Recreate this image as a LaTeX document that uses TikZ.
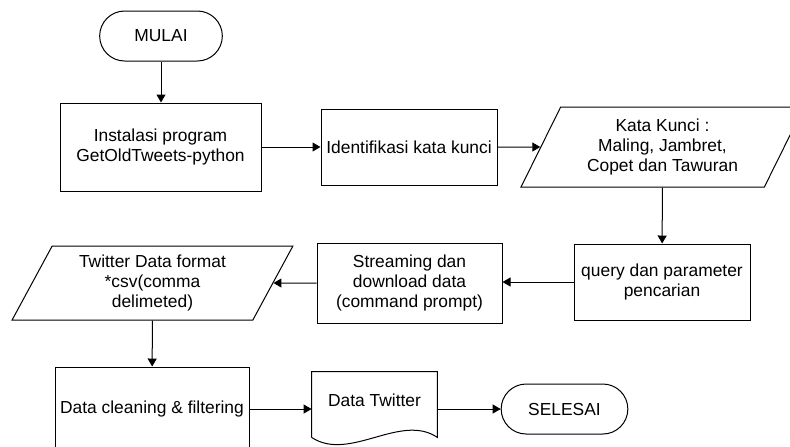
\documentclass[tikz,border=0pt]{standalone}
\usepackage{fontspec}
\setmainfont{Liberation Sans}
\usetikzlibrary{positioning, arrows.meta, shapes.geometric, shapes.misc}

\begin{document}
\begin{tikzpicture}[x=0.5pt, y=-0.5pt, font=\fontsize{8.7}{10}\selectfont,
  proc/.style={draw, line width=0.5pt, align=center, inner sep=2pt},
  term/.style={draw, line width=0.5pt, rounded rectangle, minimum width=68pt, minimum height=25pt},
  dataio/.style={draw, line width=0.5pt, trapezium, trapezium left angle=63.4, trapezium right angle=116.6, trapezium stretches=true, align=center, inner sep=1pt},
  flow/.style={line width=0.5pt, -{Triangle[length=4pt, width=4.5pt]}}]
\path[use as bounding box, clip] (0,0) rectangle (790,446);
\node[term] (mulai) at (161,36) {MULAI};
\node[proc, minimum width=100.5pt, minimum height=44pt] (instal) at (160.5,147) {Instalasi program\\GetOldTweets-python};
\node[proc, minimum width=88pt, minimum height=38pt] (ident) at (409,147) {Identifikasi kata kunci};
\node[dataio, minimum width=141.5pt, minimum height=40pt] (kunci) at (662.5,147) {Kata Kunci :\\Maling, Jambret,\\Copet dan Tawuran};
\node[proc, minimum width=88pt, minimum height=38pt] (query) at (662,282) {query dan parameter\\pencarian};
\node[proc, minimum width=92.5pt, minimum height=40pt] (stream) at (409.5,283) {Streaming dan\\download data\\(command prompt)};
\node[dataio, minimum width=140.5pt, minimum height=37pt] (twdata) at (152.5,283) {Twitter Data format\\*csv(comma\\delimeted)};
\node[proc, minimum width=97pt, minimum height=42pt] (clean) at (152,409) {Data cleaning \& filtering};
\node[minimum width=62.5pt, minimum height=32.5pt, text depth=4.5pt, align=center] (doc) at (374.5,404.5) {Data Twitter};
\draw[line width=0.5pt] (doc.south west) -- (doc.north west) -- (doc.north east) -- (doc.south east)
  .. controls +(-37,-25) and +(38,25) .. (doc.south west);
\node[term, minimum width=70pt] (selesai) at (564.5,409) {SELESAI};
\draw[flow] (mulai.south) -- (mulai.south |- instal.north);
\draw[flow] (instal) -- (ident);
\draw[flow] (ident) -- (kunci);
\draw[flow] (kunci) -- (query);
\draw[flow] (query.west) -- (query.west -| stream.east);
\draw[flow] (stream) -- (twdata);
\draw[flow] (twdata) -- (clean);
\draw[flow] (clean) -- (clean -| doc.west);
\draw[flow] (doc.east |- selesai) -- (selesai);
\end{tikzpicture}
\end{document}
